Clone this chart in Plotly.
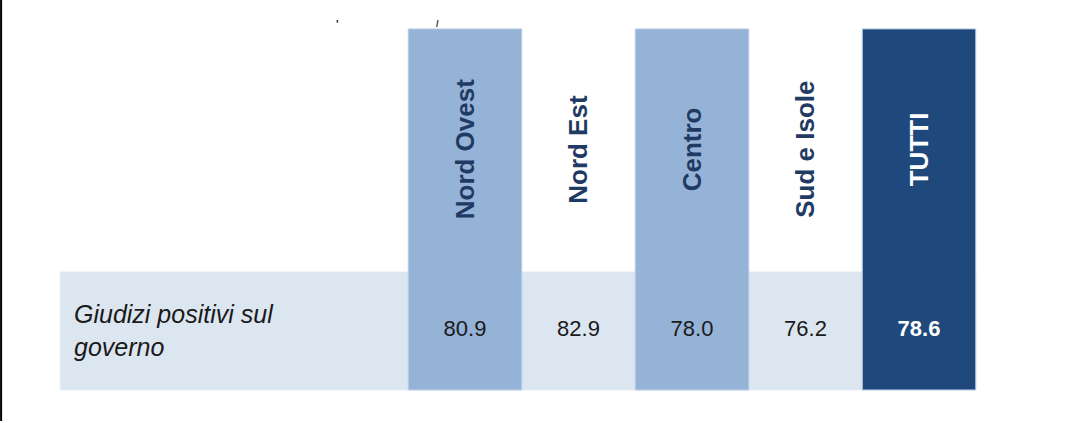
import plotly.graph_objects as go

# dati della tabella
regioni = ["Nord Ovest", "Nord Est", "Centro", "Sud e Isole", "TUTTI"]
valori = [80.9, 82.9, 78.0, 76.2, 78.6]
etichetta_riga = "Giudizi positivi sul<br>governo"

# colori (stile Excel blu)
CHIARO = "#95b3d7"
SCURO = "#1f497d"
FASCIA = "#dce6f1"
TESTO_HEAD = "#1f3a63"

# colonne evidenziate: indice -> colore
evidenziate = {0: CHIARO, 2: CHIARO, 4: SCURO}

# scala: una colonna = 1 unità in x, la riga dei valori = 1 unità in y
ALTO_COL = 3.06
Y_HEAD = 2.04
Y_VAL = 0.5

x = list(range(len(regioni)))

fig = go.Figure()

# colonne piene (sfondo)
for i, col in evidenziate.items():
    fig.add_trace(go.Bar(
        x=[x[i]], y=[ALTO_COL], width=1,
        marker=dict(color=col, line=dict(color="#b9cde5", width=1)),
        hoverinfo="skip", showlegend=False,
    ))

# fascia della riga
fig.add_shape(type="rect", xref="x", yref="y", x0=-3.567, x1=4.5, y0=0, y1=1,
              fillcolor=FASCIA, line=dict(color="#e4ecf6", width=1), layer="below")

# valori
fig.add_trace(go.Scatter(
    x=x, y=[Y_VAL] * len(x), mode="text",
    text=[f"<b>{v:.1f}</b>" if r == "TUTTI" else f"{v:.1f}" for r, v in zip(regioni, valori)],
    textfont=dict(family="Liberation Sans, Arial", size=22,
                  color=["#1a1a1a"] * 4 + ["#ffffff"]),
    hoverinfo="skip", showlegend=False,
))

# intestazioni ruotate
for i, r in enumerate(regioni):
    fig.add_annotation(
        x=x[i], y=Y_HEAD, text=f"<b>{r}</b>", textangle=-90, showarrow=False,
        font=dict(family="Liberation Sans, Arial", size=26,
                  color="#ffffff" if r == "TUTTI" else TESTO_HEAD),
    )

# etichetta di riga
fig.add_annotation(
    x=-3.46, y=Y_VAL, text=f"<i>{etichetta_riga}</i>", showarrow=False,
    xanchor="left", align="left",
    font=dict(family="Liberation Sans, Arial", size=25, color="#1a1a1a"),
)

# piccoli segni residui in alto
fig.add_annotation(x=-1.12, y=3.10, text="<b>'</b>", showarrow=False,
                   font=dict(family="Liberation Sans", size=11, color="#222"))
fig.add_annotation(x=-0.24, y=3.10, text="<b>/</b>", showarrow=False,
                   font=dict(family="Liberation Sans", size=9, color="#222"))

# bordo sinistro nero
fig.add_shape(type="line", xref="paper", yref="paper", x0=0.001, x1=0.001,
              y0=0.005, y1=1, line=dict(color="black", width=2))

fig.update_layout(
    width=1092, height=423,
    margin=dict(l=0, r=0, t=0, b=0),
    paper_bgcolor="white", plot_bgcolor="white",
    barmode="overlay",
    xaxis=dict(range=[-4.097, 5.524], visible=False, fixedrange=True),
    yaxis=dict(range=[-0.28, 3.305], visible=False, fixedrange=True),
)

fig.write_html("out.html", config={"displayModeBar": False},
               post_script="document.body.style.margin='0';")
